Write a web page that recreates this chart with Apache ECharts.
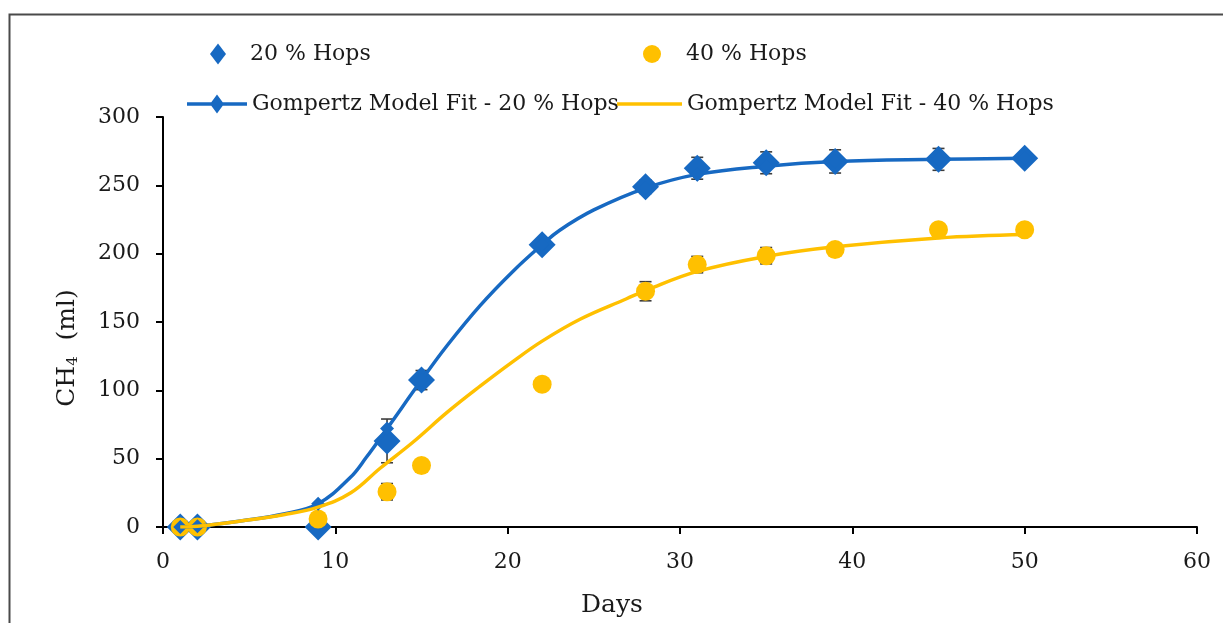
<!DOCTYPE html>
<html>
<head>
<meta charset="utf-8">
<script src="https://cdn.jsdelivr.net/npm/echarts@6/dist/echarts.min.js"></script>
<style>
html,body{margin:0;padding:0;background:#fff;}
#chart{width:1223px;height:623px;}
</style>
</head>
<body>
<div id="chart"></div>
<script>
// ---- data ----
const days = [1, 2, 9, 13, 15, 22, 28, 31, 35, 39, 45, 50];
const hops20 = [0, 0, 0, 63, 107.5, 206.6, 249, 262.5, 266.5, 267.5, 269, 269.8];
const hops20Err = [0, 0, 0, 16, 7, 2, 5, 8, 8, 8.5, 8, 0];
const hops40 = [0, 0, 5.8, 25.8, 45, 104.4, 172.5, 192, 198.5, 203, 217.5, 217.5];
const hops40Err = [0, 0, 0, 6, 0, 0, 7, 6, 6, 4, 0, 0];

// Gompertz fit curves
const fit20X = [1, 2, 4.6, 7, 9, 10.85, 11.8, 13, 15, 16.5, 18.4, 20.3, 22, 23, 25, 28, 31, 35, 39, 45, 50];
const fit20Y = [0, 0.5, 4.6, 9.5, 17, 36, 51, 72, 107.5, 133, 162, 187, 206.6, 217, 232, 248, 258, 264, 267.4, 269, 269.8];
const fit40X = [1, 2, 4.6, 7, 9, 10.9, 12.6, 14.5, 16.5, 18.4, 20.3, 22, 24.2, 26.9, 28, 31, 35, 39, 45, 50];
const fit40Y = [0, 0.5, 4.5, 9, 14.5, 25, 43, 62, 84, 103, 121, 136, 152, 167, 173, 187, 198, 205, 211.5, 214];

const names = ['20 % Hops', '40 % Hops', 'Gompertz Model Fit - 20 % Hops', 'Gompertz Model Fit - 40 % Hops'];
const xTicks = {min: 0, max: 60, interval: 10};
const yTicks = {min: 0, max: 300, interval: 50};

// ---- build option ----
const BLUE = '#1769C2';
const YELLOW = '#FFC000';
const FONT = 'DejaVu Serif';
const TXT = '#1a1a1a';

const errData = [];
days.forEach((d, i) => {
  if (hops20Err[i] > 0) errData.push([d, hops20[i] - hops20Err[i], hops20[i] + hops20Err[i]]);
  if (hops40Err[i] > 0) errData.push([d, hops40[i] - hops40Err[i], hops40[i] + hops40Err[i]]);
});

const fit20Data = fit20X.map((x, i) => days.includes(x) ? [x, fit20Y[i]] : {value: [x, fit20Y[i]], symbol: 'none'});
const fit40Data = fit40X.map((x, i) => [x, fit40Y[i]]);

const legendText = {fontFamily: FONT, fontSize: 22, color: TXT};
const lineDiamondIcon = 'path://M0,7.75H24.3L30,0L35.7,7.75H60V11.25H35.7L30,19L24.3,11.25H0Z';
const lineIcon = 'path://M0,0H65V3.5H0Z';

const chart = echarts.init(document.getElementById('chart'), null, {renderer: 'canvas'});
chart.setOption({
  animation: false,
  backgroundColor: '#fff',
  graphic: [{
    type: 'rect', left: 7, top: 12, silent: true,
    shape: {x: 0, y: 0, width: 1240, height: 640},
    style: {fill: 'none', stroke: '#4a4a4a', lineWidth: 2}
  }],
  legend: [
    {data: [{name: names[0], icon: 'diamond'}], left: 210, top: 43, padding: 0, itemWidth: 16, itemHeight: 21,
     textStyle: Object.assign({padding: [0, 0, 0, 19]}, legendText)},
    {data: [{name: names[1], icon: 'circle'}], left: 643, top: 43, padding: 0, itemWidth: 18, itemHeight: 18,
     textStyle: Object.assign({padding: [0, 0, 0, 20]}, legendText)},
    {data: [{name: names[2], icon: lineDiamondIcon}], left: 187, top: 93, padding: 0, itemWidth: 60, itemHeight: 19, textStyle: legendText},
    {data: [{name: names[3], icon: lineIcon}], left: 617, top: 93, padding: 0, itemWidth: 65, itemHeight: 3.5, textStyle: legendText}
  ],
  grid: {left: 163, right: 26, top: 117, bottom: 95, containLabel: false},
  xAxis: {
    type: 'value', min: xTicks.min, max: xTicks.max, interval: xTicks.interval,
    name: 'Days', nameLocation: 'middle', nameGap: 66,
    nameTextStyle: {fontFamily: FONT, fontSize: 25, color: TXT, padding: [0, 136, 0, 0]},
    axisLine: {lineStyle: {color: '#000', width: 2}},
    axisTick: {show: true, length: 7, lineStyle: {color: '#000', width: 2}},
    axisLabel: {fontFamily: FONT, fontSize: 22, color: TXT, margin: 24},
    splitLine: {show: false}
  },
  yAxis: {
    type: 'value', min: yTicks.min, max: yTicks.max, interval: yTicks.interval,
    name: '{a|CH}{b|4}{a|  (ml)}', nameLocation: 'middle', nameGap: 82, nameRotate: 90,
    nameTextStyle: {
      padding: [0, 52, 0, 0],
      rich: {
        a: {fontFamily: FONT, fontSize: 25, color: TXT},
        b: {fontFamily: FONT, fontSize: 15, color: TXT, padding: [12, 0, 0, 0]}
      }
    },
    axisLine: {show: true, lineStyle: {color: '#000', width: 2}},
    axisTick: {show: true, length: 7, lineStyle: {color: '#000', width: 2}},
    axisLabel: {fontFamily: FONT, fontSize: 22, color: TXT, margin: 23},
    splitLine: {show: false}
  },
  series: [
    {
      type: 'custom', name: 'err', silent: true, z: 1,
      data: errData,
      renderItem: function (params, api) {
        const x = api.value(0);
        const lo = api.coord([x, api.value(1)]);
        const hi = api.coord([x, api.value(2)]);
        const cw = 6;
        const st = {stroke: '#3d3d3d', lineWidth: 1.6};
        return {
          type: 'group',
          children: [
            {type: 'line', shape: {x1: lo[0], y1: lo[1], x2: hi[0], y2: hi[1]}, style: st},
            {type: 'line', shape: {x1: lo[0] - cw, y1: lo[1], x2: lo[0] + cw, y2: lo[1]}, style: st},
            {type: 'line', shape: {x1: hi[0] - cw, y1: hi[1], x2: hi[0] + cw, y2: hi[1]}, style: st}
          ]
        };
      }
    },
    {
      type: 'scatter', name: names[0], z: 2,
      symbol: 'diamond', symbolSize: 27,
      itemStyle: {color: BLUE, opacity: 1},
      data: days.map((d, i) => [d, hops20[i]])
    },
    {
      type: 'scatter', name: names[1], z: 3,
      symbol: 'circle', symbolSize: 19,
      itemStyle: {color: YELLOW, opacity: 1},
      data: days.map((d, i) => [d, hops40[i]])
    },
    {
      type: 'line', name: names[2], z: 4, smooth: 0.4,
      symbol: 'diamond', symbolSize: 14, showSymbol: true,
      lineStyle: {color: BLUE, width: 3.5},
      itemStyle: {color: BLUE},
      data: fit20Data
    },
    {
      type: 'line', name: names[3], z: 5, smooth: 0.4,
      symbol: 'none', showSymbol: false,
      lineStyle: {color: YELLOW, width: 3.5},
      itemStyle: {color: YELLOW},
      data: fit40Data
    }
  ]
});
</script>
</body>
</html>
